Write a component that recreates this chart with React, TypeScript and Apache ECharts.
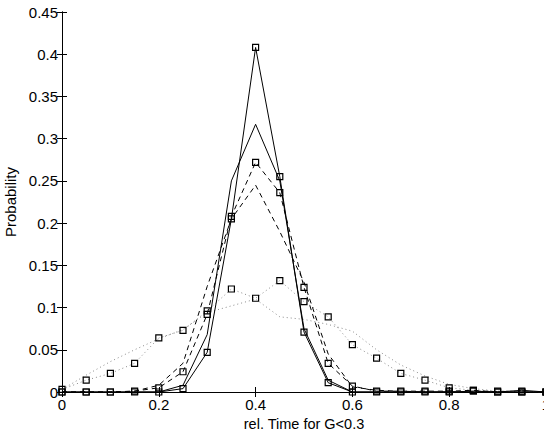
import React, { useEffect, useRef } from "react";
import * as echarts from "echarts";

const xValues = [0, 0.05, 0.1, 0.15, 0.2, 0.25, 0.3, 0.35, 0.4, 0.45, 0.5, 0.55, 0.6, 0.65, 0.7, 0.75, 0.8, 0.85, 0.9, 0.95, 1];

const solidSquares = [0, 0, 0, 0, 0, 0.004, 0.047, 0.205, 0.408, 0.255, 0.071, 0.011, 0, 0, 0, 0, 0, 0.001, 0, 0, 0];
const solidPlain = [0, 0, 0, 0, 0, 0.008, 0.068, 0.25, 0.317, 0.25, 0.075, 0.014, 0, 0, 0, 0, 0, 0, 0, 0.002, 0];
const dashedSquares = [0, 0, 0, 0.001, 0.005, 0.024, 0.092, 0.208, 0.272, 0.236, 0.124, 0.034, 0.007, 0.001, 0.001, 0.001, 0.001, 0.002, 0, 0, 0];
const dashedPlain = [0, 0, 0, 0.001, 0.008, 0.034, 0.125, 0.205, 0.245, 0.19, 0.13, 0.045, 0.006, 0.002, 0.001, 0, 0, 0, 0, 0, 0];
const dottedSquares = [0.003, 0.014, 0.022, 0.034, 0.064, 0.073, 0.096, 0.122, 0.111, 0.132, 0.107, 0.089, 0.056, 0.04, 0.022, 0.014, 0.005, 0.002, 0.001, 0.001, 0];
const dottedPlain = [0.003, 0.02, 0.036, 0.05, 0.063, 0.074, 0.094, 0.102, 0.11, 0.089, 0.086, 0.08, 0.072, 0.05, 0.032, 0.019, 0.009, 0.004, 0.001, 0.001, 0];

const xTitle = "rel. Time for G<0.3";
const yTitle = "Probability";

const FONT = "'Liberation Sans', Arial, Helvetica, sans-serif";

const pairs = (ys: number[]) => xValues.map((x, i) => [x, ys[i]]);

const fmt = (v: number) => String(+v.toFixed(2));

export default function App() {
  const ref = useRef<HTMLDivElement>(null);
  useEffect(() => {
    if (!ref.current) return;
    const chart = echarts.init(ref.current, null, { renderer: "svg" });
    const axisLine = { show: true, lineStyle: { color: "#000", width: 1 } };
    const tick = { show: true, inside: true, length: 5, lineStyle: { color: "#000", width: 1 } };
    const label = { color: "#000", fontSize: 15, fontFamily: FONT };
    const mkLine = (name: string, ys: number[], type: any, color: string) => ({
      name,
      type: "line",
      data: pairs(ys),
      showSymbol: false,
      lineStyle: { color, width: 1, type },
      emphasis: { disabled: true },
      silent: true,
      z: 2,
    });
    const mkMarks = (name: string, ys: number[], symColor: string, bw: number) => ({
      name,
      type: "scatter",
      data: pairs(ys),
      symbol: "rect",
      symbolSize: 6,
      itemStyle: { color: "rgba(0,0,0,0)", borderColor: symColor, borderWidth: bw, borderType: "solid", opacity: 1 },
      emphasis: { disabled: true },
      silent: true,
      z: 3,
    });
    chart.setOption({
      animation: false,
      backgroundColor: "#fff",
      grid: { left: 62, top: 12, right: -2, bottom: 39, containLabel: false, outerBoundsMode: "none" },
      xAxis: [
        {
          type: "value",
          position: "bottom",
          min: 0,
          max: 1,
          interval: 0.2,
          axisLine,
          axisTick: tick,
          splitLine: { show: false },
          axisLabel: { ...label, margin: 5, formatter: fmt },
          name: xTitle,
          nameLocation: "middle",
          nameGap: 15,
          nameTextStyle: { color: "#000", fontSize: 14.5, fontFamily: FONT },
        },
        {
          type: "value",
          position: "top",
          min: 0,
          max: 1,
          interval: 0.2,
          axisLine,
          axisTick: tick,
          splitLine: { show: false },
          axisLabel: { show: false },
        },
      ],
      yAxis: [
        {
          type: "value",
          position: "left",
          min: 0,
          max: 0.45,
          interval: 0.05,
          axisLine,
          axisTick: tick,
          splitLine: { show: false },
          axisLabel: { ...label, margin: 4, formatter: fmt },
          name: yTitle,
          nameLocation: "middle",
          nameGap: 33,
          nameTextStyle: { color: "#000", fontSize: 15, fontFamily: FONT },
        },
        {
          type: "value",
          position: "right",
          min: 0,
          max: 0.45,
          interval: 0.05,
          axisLine,
          axisTick: tick,
          splitLine: { show: false },
          axisLabel: { show: false },
        },
      ],
      series: [
        mkLine("dotted plain", dottedPlain, [1, 3], "#8a8a8a"),
        mkLine("dotted squares line", dottedSquares, [1, 3], "#8a8a8a"),
        mkLine("dashed plain", dashedPlain, [5, 4], "#000"),
        mkLine("dashed squares line", dashedSquares, [5, 4], "#000"),
        mkLine("solid plain", solidPlain, "solid", "#000"),
        mkLine("solid squares line", solidSquares, "solid", "#000"),
        mkMarks("dotted squares", dottedSquares, "#000", 1.2),
        mkMarks("dashed squares", dashedSquares, "#000", 1.2),
        mkMarks("solid squares", solidSquares, "#000", 1.2),
      ],
    });
    return () => chart.dispose();
  }, []);
  return <div ref={ref} style={{ position: "fixed", left: 0, top: 0, width: 544, height: 431 }} />;
}
